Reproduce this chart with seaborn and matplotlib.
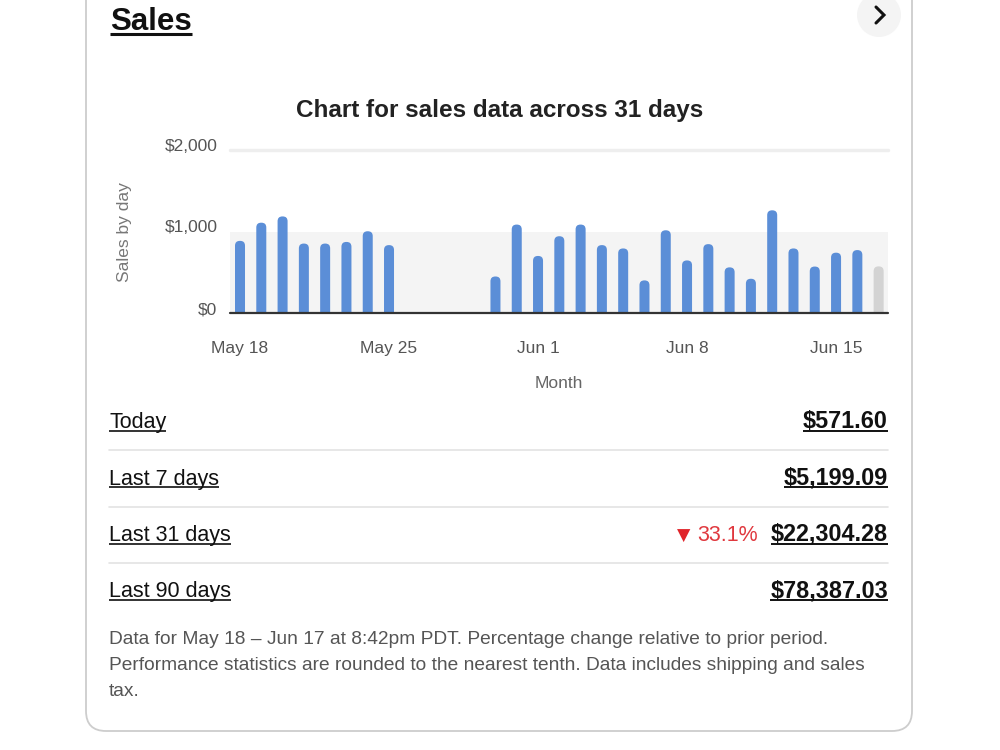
import matplotlib
matplotlib.use("Agg")
import matplotlib.pyplot as plt
import matplotlib.transforms as mtransforms
from matplotlib.patches import FancyBboxPatch, Circle
import seaborn as sns
import pandas as pd

# ---------------- data ----------------
days = [d.strftime("%b %-d") for d in pd.date_range("2024-05-18", "2024-06-17")]
sales = [885, 1108, 1185, 852, 852, 872, 1003, 833,
         0, 0, 0, 0,
         448, 1085, 700, 942, 1085, 833, 792, 400, 1015, 645,
         845, 560, 420, 1260, 792, 570, 740, 772, 572]
bar_kind = ["past"] * 30 + ["today"]
tick_days = ["May 18", "May 25", "Jun 1", "Jun 8", "Jun 15"]
y_ticks = [0, 1000, 2000]
y_tick_labels = ["$0", "$1,000", "$2,000"]
chart_title = "Chart for sales data across 31 days"
summary_labels = ["Today", "Last 7 days", "Last 31 days", "Last 90 days"]
summary_values = ["$571.60", "$5,199.09", "$22,304.28", "$78,387.03"]
change_text = "33.1%"
footer_lines = [
    "Data for May 18 \u2013 Jun 17 at 8:42pm PDT. Percentage change relative to prior period.",
    "Performance statistics are rounded to the nearest tenth. Data includes shipping and sales",
    "tax.",
]

# ---------------- style ----------------
sns.set_theme(style="white")
plt.rcParams["font.family"] = ["Liberation Sans", "DejaVu Sans"]
TABLE_FONT = ["Liberation Sans", "DejaVu Sans"]

W, H = 1000, 750
fig = plt.figure(figsize=(W / 100, H / 100), dpi=100)
fig.patch.set_facecolor("white")

# background / card canvas in pixel coords
bg = fig.add_axes([0, 0, 1, 1])
bg.set_xlim(0, W)
bg.set_ylim(H, 0)
bg.axis("off")
bg.set_zorder(0)

card = FancyBboxPatch((86, -60), 826, 791, boxstyle="round,pad=0,rounding_size=20",
                      fc="white", ec="#cdcdcd", lw=1.3)
bg.add_patch(card)

# header
t_sales = bg.text(110, 30, "Sales", fontsize=22.5, weight="bold", color="#111111",
                  ha="left", va="baseline")
bg.add_patch(Circle((879, 15), 22, color="#f4f4f4", lw=0))
bg.plot([876, 884, 876], [7, 15, 23], color="#111111", lw=2.2, solid_capstyle="round",
        solid_joinstyle="miter")

bg.text(500, 110, chart_title, fontsize=17.5, weight="bold", color="#222222",
        ha="center", va="center")

# ---------------- chart ----------------
left, right, top, bottom = 230, 888, 150, 313
ax = fig.add_axes([left / W, 1 - bottom / H, (right - left) / W, (bottom - top) / H])
ax.set_zorder(2)
ax.patch.set_alpha(0)

df = pd.DataFrame({"day": days, "sales": sales, "kind": bar_kind})
sns.barplot(data=df, x="day", y="sales", hue="kind", order=days,
            palette={"past": "#5b8ed7", "today": "#d3d3d3"}, saturation=1,
            width=0.47, dodge=False, legend=False, ax=ax, zorder=2)
bar_patches = list(ax.patches)
ax.set_xlim(-0.47, 30.44)
ax.set_ylim(0, 2000)

# round the bar tops (shape only; geometry comes from seaborn's bars)
x_px_per_unit = (right - left) / (30.44 + 0.47)
y_px_per_unit = (bottom - top) / 2000
aspect = x_px_per_unit / y_px_per_unit
for p in bar_patches:
    h = p.get_height()
    if h <= 0:
        p.remove()
        continue
    wdt = p.get_width()
    r = wdt * 0.48
    ext = r * aspect
    rb = FancyBboxPatch((p.get_x(), p.get_y() - ext), wdt, h + ext,
                        boxstyle=f"round,pad=0,rounding_size={r}",
                        mutation_aspect=aspect, fc=p.get_facecolor(), lw=0, zorder=2)
    p.remove()
    ax.add_patch(rb)

ax.axhspan(0, 1000, color="#f4f4f4", zorder=0, lw=0)
ax.axhline(2000, color="#eeeeee", lw=2.5, zorder=0, clip_on=False)
ax.axhline(0, color="#333333", lw=1.6, zorder=3, clip_on=False)

for s in ax.spines.values():
    s.set_visible(False)
ax.set_xticks([days.index(d) for d in tick_days])
ax.set_xticklabels(tick_days)
ax.set_yticks(y_ticks)
ax.set_yticklabels(y_tick_labels)
ax.tick_params(axis="x", length=0, pad=20, labelsize=12.5, labelcolor="#555555")
ax.tick_params(axis="y", length=0, pad=9, labelsize=12.5, labelcolor="#555555")
off = mtransforms.ScaledTranslation(0, 5 / 100, fig.dpi_scale_trans)
for lab in ax.get_yticklabels():
    lab.set_transform(lab.get_transform() + off)

ax.set_xlabel("Month", fontsize=12.5, color="#666666", va="center")
ax.xaxis.set_label_coords((559 - left) / (right - left), (bottom - 384) / (bottom - top))
ax.set_ylabel("Sales by day", fontsize=12.5, color="#777777", rotation=90,
              ha="center", va="center")
ax.yaxis.set_label_coords((124 - left) / (right - left), (bottom - 232) / (bottom - top))

# ---------------- summary table ----------------
renderer = fig.canvas.get_renderer()


def underline(t, dy=3, lw=1.2, color="#111111"):
    bb = t.get_window_extent(renderer)
    x0, x1 = bb.x0, bb.x1
    y = t.get_position()[1] + dy
    bg.plot([x0, x1], [y, y], color=color, lw=lw, solid_capstyle="butt")


underline(t_sales, dy=4, lw=2.2)

baselines = [428, 484.5, 541, 597.5]
for i, (lab, val) in enumerate(zip(summary_labels, summary_values)):
    yb = baselines[i]
    t1 = bg.text(109, yb, lab, fontsize=15.5, color="#111111", ha="left", va="baseline",
                 family=TABLE_FONT)
    t2 = bg.text(888, yb, val, fontsize=16.8, weight="bold", color="#111111", ha="right",
                 va="baseline", family=TABLE_FONT)
    underline(t1, dy=2.5)
    underline(t2, dy=2.5, lw=1.4)
    if i < 3:
        bg.plot([109, 888], [yb + 22, yb + 22], color="#e3e3e3", lw=1.2)
    if lab == "Last 31 days":
        bg.text(758, yb, change_text, fontsize=15.5, color="#e0383e", ha="right",
                va="baseline", family=TABLE_FONT)
        bg.text(684, yb - 5, "\u25BC", fontsize=12.5, color="#e0242a", ha="center",
                va="center", family=["DejaVu Sans"])

for i, line in enumerate(footer_lines):
    bg.text(109, 640 + 26 * i, line, fontsize=13.8, color="#555555", ha="left",
            va="center", family=TABLE_FONT)

fig.savefig("out.png", dpi=100, facecolor="white")
